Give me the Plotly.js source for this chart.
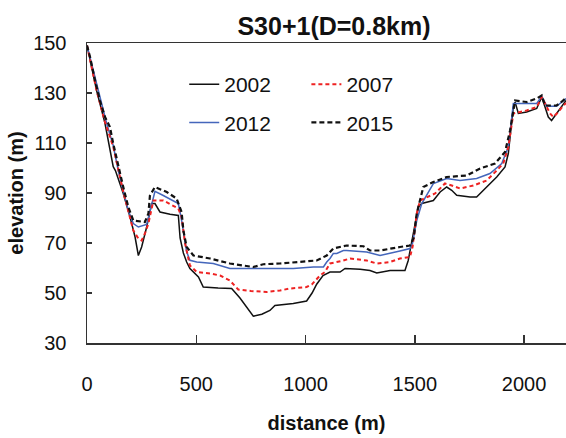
<!DOCTYPE html>
<html>
<head>
<meta charset="utf-8">
<script src="https://cdn.plot.ly/plotly-3.0.1.min.js"></script>
<style>
  html, body { margin: 0; padding: 0; background: #fff; }
  #chart { width: 566px; height: 438px; }
</style>
</head>
<body>
<div id="chart"></div>
<script>
// Cross-section S30+1 : bed elevation (m) along the section distance (m)

const dist2002 = [0, 20, 44, 82, 110, 120, 130, 166, 197, 220, 235, 250, 273, 296, 311, 334, 380, 418, 426, 441, 456, 471, 510, 532, 600, 662, 700, 761, 800, 837, 860, 944, 1005, 1030, 1051, 1080, 1112, 1158, 1181, 1250, 1295, 1326, 1387, 1455, 1470, 1486, 1516, 1532, 1585, 1616, 1646, 1669, 1692, 1753, 1783, 1829, 1875, 1913, 1928, 1951, 1959, 1974, 2012, 2058, 2081, 2096, 2111, 2126, 2149, 2172, 2192];
const elev2002 = [149, 141, 131, 118, 104, 100.5, 99, 89.8, 80.4, 72.4, 65, 68.4, 76.4, 85.8, 85.8, 82.4, 81.5, 81, 72, 66, 62.4, 59.8, 56.4, 52.4, 52, 51.8, 48, 40.7, 41.5, 43, 45, 45.8, 46.8, 50, 53.5, 57, 58.4, 58.4, 59.8, 59.5, 59, 58, 59, 59, 63, 71, 84.4, 85.8, 87, 90.4, 92.4, 91.1, 89.1, 88.4, 88.4, 92.4, 96.4, 100.4, 105.8, 124.4, 126.4, 121.8, 122.4, 123.8, 128.4, 124.4, 120.4, 119, 121.8, 125, 127];

const dist2007 = [0, 44, 82, 120, 166, 197, 212, 235, 250, 265, 281, 304, 349, 418, 433, 449, 471, 502, 563, 609, 654, 692, 750, 822, 883, 929, 1005, 1030, 1066, 1089, 1112, 1173, 1204, 1280, 1326, 1387, 1432, 1478, 1490, 1509, 1524, 1593, 1638, 1669, 1707, 1768, 1829, 1875, 1905, 1928, 1951, 1982, 2012, 2058, 2081, 2096, 2119, 2134, 2157, 2180, 2192];
const elev2007 = [149, 131, 118.5, 108.5, 90.5, 80.4, 75, 71.8, 71, 73.8, 77.8, 87, 87, 83.8, 80.4, 69.8, 61, 58.4, 57.8, 57, 55, 51.4, 50.8, 50.4, 51, 51.8, 52.4, 53.5, 57, 58.4, 61.8, 63, 63.8, 63, 61.8, 62.4, 63.8, 64.4, 68.5, 81.8, 87, 89.8, 93.8, 93, 91.8, 93, 95, 99, 101.8, 108.4, 121.8, 122.4, 123, 124.4, 128.4, 125.8, 121.8, 120.4, 122.4, 125, 126];

const dist2012 = [0, 29, 59, 90, 120, 143, 166, 189, 212, 235, 273, 296, 311, 349, 418, 433, 456, 471, 502, 578, 654, 800, 944, 1036, 1082, 1097, 1112, 1127, 1143, 1173, 1188, 1280, 1341, 1432, 1478, 1490, 1509, 1532, 1585, 1646, 1707, 1783, 1844, 1898, 1928, 1951, 2012, 2058, 2081, 2104, 2149, 2172, 2192];
const elev2012 = [149, 139, 128.4, 117.8, 109, 99, 91, 83, 77.8, 76.4, 77.4, 85.8, 90.7, 89, 85.8, 79, 66.5, 63.1, 62.4, 61.8, 59.8, 59.8, 59.8, 60.4, 60.4, 62.4, 63.8, 65.8, 65.8, 67, 67, 66.4, 65, 66.8, 67.8, 70, 79, 85.8, 93.8, 95.8, 95, 95.8, 97.8, 101.8, 108.4, 125.8, 125.8, 125.8, 128.7, 124.7, 124.7, 126.4, 127.8];

const dist2015 = [0, 14, 37, 59, 82, 105, 120, 143, 166, 189, 212, 265, 281, 288, 311, 365, 410, 433, 441, 456, 487, 563, 654, 761, 807, 883, 975, 1051, 1097, 1127, 1188, 1265, 1295, 1341, 1432, 1478, 1495, 1509, 1539, 1585, 1646, 1738, 1799, 1867, 1913, 1936, 1959, 2012, 2058, 2081, 2096, 2149, 2172, 2192];
const elev2015 = [149, 144.4, 135, 127, 120.5, 116.4, 109.8, 100.4, 92.4, 84.4, 79, 78.4, 81.8, 89, 92.4, 90.4, 87.8, 82.4, 75, 68.4, 65, 63.8, 61.8, 60.4, 61.5, 61.8, 62.4, 63, 65, 67.8, 69, 68.7, 67, 67, 68.4, 69, 72, 81.8, 92.4, 94.4, 96.4, 97, 99.8, 101.8, 106.4, 115, 127, 126.4, 127.8, 129, 125, 125, 126.5, 128];

const xTicks = [0, 500, 1000, 1500, 2000];
const yTicks = [30, 50, 70, 90, 110, 130, 150];

const FONT = 'Liberation Sans, Arial, Helvetica, sans-serif';

const traces = [
  { name: '2002', x: dist2002, y: elev2002, legend: 'legend', legendgroup: 'a',
    line: { color: '#111111', width: 1.5 } },
  { name: '2012', x: dist2012, y: elev2012, legend: 'legend', legendgroup: 'b',
    line: { color: '#4466bb', width: 1.5 } },
  { name: '2007', x: dist2007, y: elev2007, legend: 'legend2', legendgroup: 'c',
    line: { color: '#ee2222', width: 2, dash: '4px,3px' } },
  { name: '2015', x: dist2015, y: elev2015, legend: 'legend2', legendgroup: 'd',
    line: { color: '#111111', width: 2.2, dash: '5px,3px' } }
].map(t => Object.assign({ type: 'scatter', mode: 'lines' }, t));

const legendStyle = {
  bgcolor: 'rgba(0,0,0,0)',
  font: { family: FONT, size: 21, color: '#111' },
  tracegroupgap: 8,
  xanchor: 'left', yanchor: 'top'
};

const layout = {
  width: 566, height: 438,
  margin: { l: 87, r: 0, t: 43, b: 95 },
  paper_bgcolor: '#fff', plot_bgcolor: '#fff',
  font: { family: FONT, color: '#111' },
  title: {
    text: '<b>S30+1(D=0.8km)</b>',
    font: { family: FONT, size: 25, color: '#111' },
    xref: 'container', x: 334 / 566, xanchor: 'center',
    yref: 'container', y: 1 - 26 / 438, yanchor: 'middle'
  },
  xaxis: {
    range: [0, 2192], tickvals: xTicks, ticktext: xTicks.map(String),
    ticks: 'inside', ticklen: 8, tickwidth: 1.5, tickcolor: '#333',
    showline: true, linecolor: '#333', linewidth: 1.5, mirror: true,
    showgrid: false, zeroline: false,
    tickfont: { family: FONT, size: 20, color: '#111' },
    ticklabelstandoff: 22,
    title: { text: '<b>distance (m)</b>', font: { family: FONT, size: 20, color: '#111' }, standoff: 22 }
  },
  yaxis: {
    range: [30, 150], tickvals: yTicks, ticktext: yTicks.map(String),
    ticks: 'inside', ticklen: 5, tickwidth: 1.5, tickcolor: '#333',
    showline: true, linecolor: '#333', linewidth: 1.5,
    showgrid: false, zeroline: false,
    tickfont: { family: FONT, size: 20, color: '#111' },
    ticklabelstandoff: 15,
    title: { text: '<b>elevation (m)</b>', font: { family: FONT, size: 20, color: '#111' }, standoff: 4 }
  },
  legend: Object.assign({}, legendStyle, { x: 0.203, y: 0.93 }),
  legend2: Object.assign({}, legendStyle, { x: 0.458, y: 0.93 }),
  showlegend: true
};

Plotly.newPlot('chart', traces, layout, { staticPlot: true, displayModeBar: false });
</script>
</body>
</html>
